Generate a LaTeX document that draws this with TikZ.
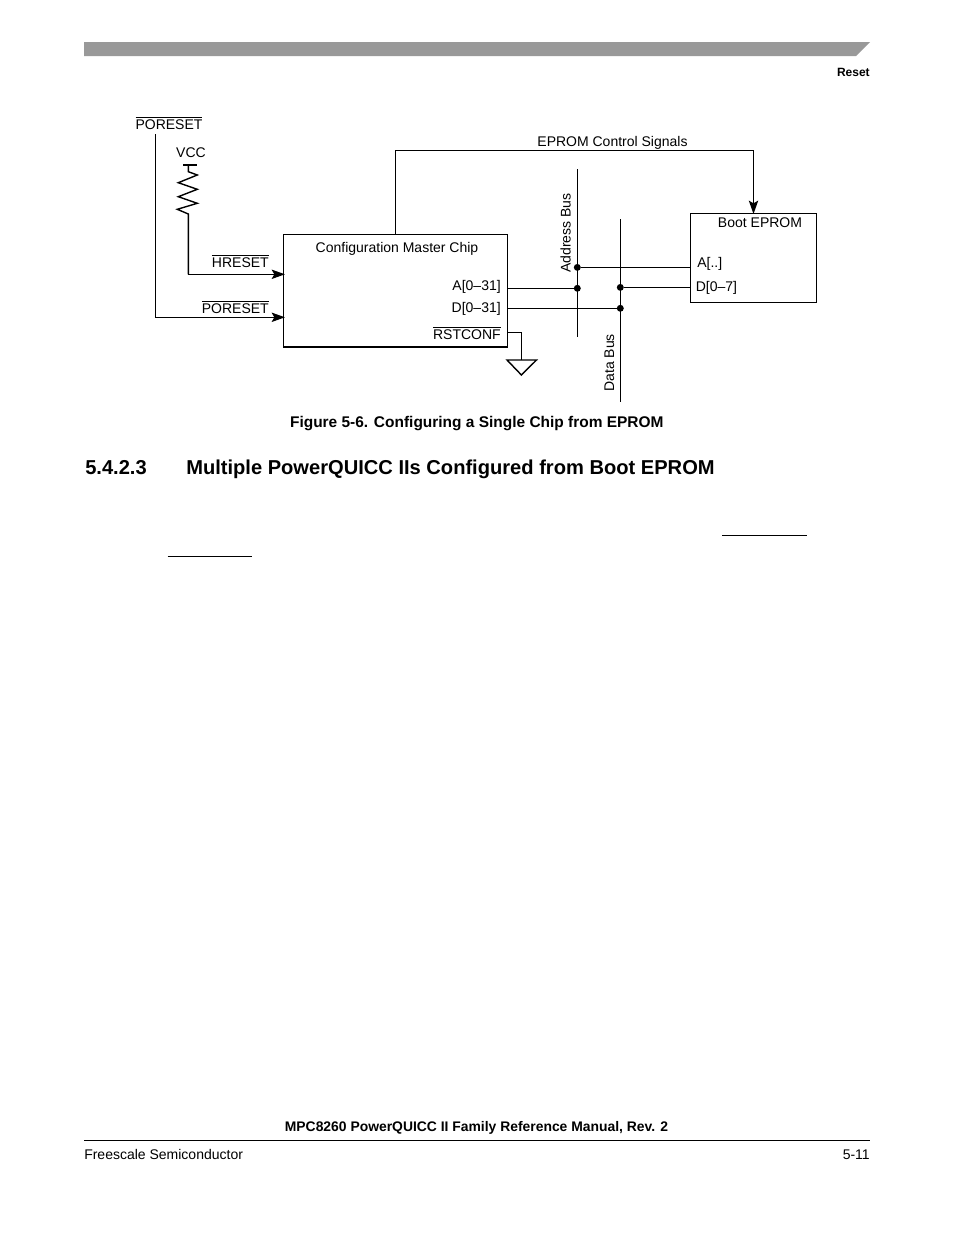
\documentclass[tikz,border=0pt]{standalone}
\usepackage{fontspec}
\setmainfont{Liberation Sans}
\usetikzlibrary{arrows.meta}
\newcommand{\ovl}[1]{\leavevmode\vbox{\hrule height 0.7pt\kern 1pt\hbox{#1}}}
\tikzset{
  wire/.style={draw=black,line width=1.05pt},
  sig/.style={wire,-{Stealth[length=10pt,width=7pt,inset=2pt]}},
  box/.style={draw=black,line width=1.05pt,fill=none,minimum width=0pt,minimum height=0pt,inner sep=0pt},
  lbl/.style={inner sep=0pt,font=\fontsize{10.5}{12}\selectfont,text=black},
  bigb/.style={inner sep=0pt,font=\fontsize{11.6}{13}\selectfont\bfseries,text=black},
  dot/.style={circle,fill=black,inner sep=0pt,minimum size=5.2pt},
}
\begin{document}
\begin{tikzpicture}[x=0.75pt,y=-0.75pt]
\useasboundingbox (0,0) rectangle (954,1235);
% page furniture
\fill[fill=black!40] (84,42) -- (870,42) -- (856,56) -- (84,56) -- cycle;
\node[bigb,anchor=base east,font=\fontsize{9}{10}\selectfont\bfseries] (reset) at (870,76) {Reset};
\node[bigb,anchor=base] (cap) at (476.8,427) {Figure 5-6. Configuring a Single Chip from EPROM};
\node[bigb,anchor=base west,font=\fontsize{15.08}{18}\selectfont\bfseries] (secn) at (85,474) {5.4.2.3};
\node[bigb,anchor=base west,font=\fontsize{15.08}{18}\selectfont\bfseries] (sect) at (186,474) {Multiple PowerQUICC IIs Configured from Boot EPROM};
\draw[line width=1.2pt] (722,535.5) -- (807,535.5);
\draw[line width=1.2pt] (167.5,556.5) -- (252,556.5);
\node[bigb,anchor=base,font=\fontsize{10.42}{12}\selectfont\bfseries] (foot) at (476.5,1131) {MPC8260 PowerQUICC II Family Reference Manual, Rev. 2};
\draw[line width=0.8pt] (84,1140.5) -- (870,1140.5);
\node[lbl,anchor=base west] (fs) at (84,1159) {Freescale Semiconductor};
\node[lbl,anchor=base east] (pg) at (870,1159) {5-11};
% boxes
\draw[box] (283.5,234.5) rectangle (507.7,346.5);
\draw[line width=1.8pt] (283,346.7) -- (508.2,346.7);
\draw[box] (690.4,213.7) rectangle (816.7,302.3);
\node[lbl,anchor=base] (chipname) at (397,252) {Configuration Master Chip};
\node[lbl,anchor=base] (bootname) at (760,227) {Boot EPROM};
% coordinates
\coordinate (top) at (155.5,134);
\coordinate (pcorner) at (155.5,317.3);
\coordinate (pin) at (285,317.3);
\coordinate (hcorner) at (188.3,274.3);
\coordinate (hin) at (285,274.3);
\coordinate (vt) at (188.3,164.8);
\coordinate (c1) at (395.3,234.5);
\coordinate (c2) at (395.3,150.7);
\coordinate (c3) at (753.5,150.7);
\coordinate (c4) at (753.5,214);
\coordinate (aT) at (577.3,169.3);
\coordinate (aB) at (577.3,337.3);
\coordinate (dT) at (620.3,219);
\coordinate (dB) at (620.3,401.7);
\node[dot] (j1) at (577.3,267.4) {};
\node[dot] (j2) at (577.3,288.3) {};
\node[dot] (j3) at (620.3,287.4) {};
\node[dot] (j4) at (620.3,308.3) {};
\coordinate (ae) at (690.4,267.4);
\coordinate (as) at (507.7,288.3);
\coordinate (de) at (690.4,287.4);
\coordinate (ds) at (507.7,308.3);
\coordinate (rs) at (507.7,332.4);
\coordinate (rc) at (521.4,332.4);
\coordinate (g) at (521.4,360);
% wires
\draw[sig] (top) -- (pcorner) -- (pin);
\draw[sig] (hcorner) -- (hin);
\draw[wire] (vt) -- (188.3,171.7) -- (197.3,175) -- (178.3,182.7) -- (197.3,189.3) -- (178.3,196.7) -- (197.3,203.3) -- (177.3,209.3) -- (188.3,214) -- (hcorner);
\draw[wire] (183,164.8) -- (197,164.8);
\draw[sig] (c1) -- (c2) -- (c3) -- (c4);
\draw[wire] (aT) -- (aB);
\draw[wire] (dT) -- (dB);
\draw[wire] (j1) -- (ae);
\draw[wire] (as) -- (j2);
\draw[wire] (j3) -- (de);
\draw[wire] (ds) -- (j4);
\draw[wire] (rs) -- (rc) -- (g);
\draw[wire,line join=miter] (507,360) -- (536.5,360) -- (521.4,375) -- cycle;
% labels
\node[lbl,anchor=base] (t1) at (169,129) {\ovl{PORESET}};
\node[lbl,anchor=base] (t2) at (191,157) {VCC};
\node[lbl,anchor=base east] (t3) at (269,267) {\ovl{HRESET}};
\node[lbl,anchor=base east] (t4) at (269,313) {\ovl{PORESET}};
\node[lbl,anchor=base east] (t5) at (501,290) {A[0–31]};
\node[lbl,anchor=base east] (t6) at (501,312) {D[0–31]};
\node[lbl,anchor=base east] (t7) at (501,339) {\ovl{RSTCONF}};
\node[lbl,anchor=base] (t8) at (612.5,146) {EPROM Control Signals};
\node[lbl,anchor=base west] (t9) at (697,267) {A[..]};
\node[lbl,anchor=base west] (t10) at (695.5,291) {D[0–7]};
\node[lbl,anchor=base west,rotate=90] (t11) at (570.5,273) {Address Bus};
\node[lbl,anchor=base west,rotate=90] (t12) at (614,392) {Data Bus};
\end{tikzpicture}
\end{document}
